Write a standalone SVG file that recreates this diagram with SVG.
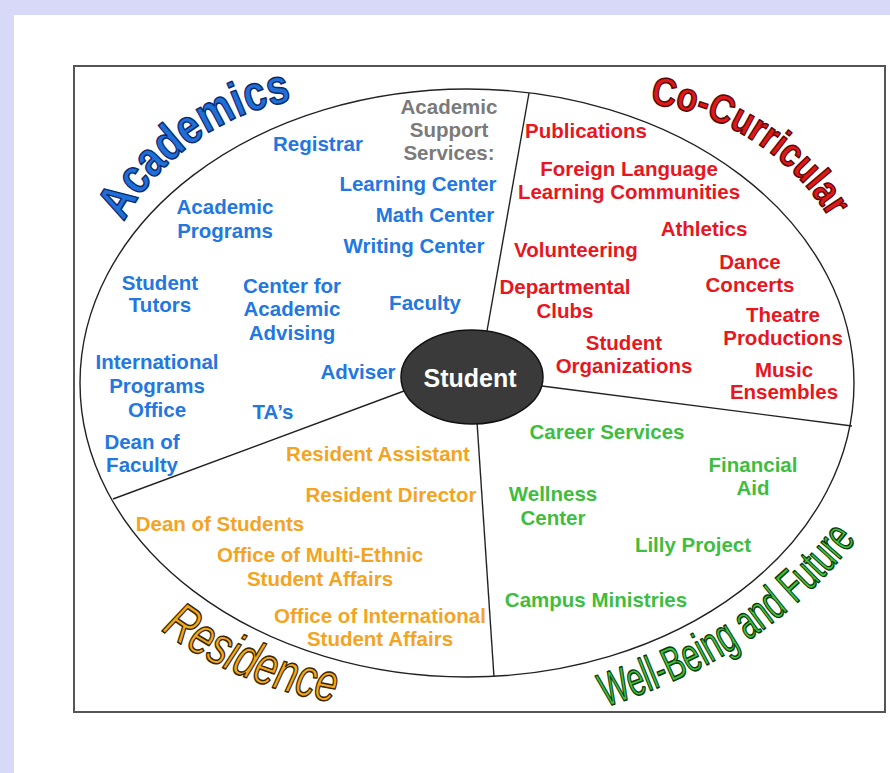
<svg xmlns="http://www.w3.org/2000/svg" width="890" height="773" viewBox="0 0 890 773">
<style>
.t{font-family:"Liberation Sans",Arial,sans-serif;font-weight:bold;font-size:20.5px;text-anchor:middle}
.b{fill:#2377e0}.g{fill:#7a7a7a}.r{fill:#e8161e}.gr{fill:#3fbd3f}.o{fill:#f3a424}
.div{stroke:#222;stroke-width:1.4;fill:none}
.title{font-family:"Liberation Sans",Arial,sans-serif;stroke-width:1.5;stroke-linejoin:round}
</style>
<defs>
<path id="pAcad" d="M124,222 C150,170 215,112 298,100"/>
<path id="pCo" d="M650,104 C720,112 792,152 834,226"/>
<path id="pRes" d="M161,630 C203,662 263,692 345,704"/>
<path id="pWell" d="M606,707 C682,681 782,641 866,527"/>
</defs>
<rect x="0" y="0" width="890" height="773" fill="#d8d8f8"/>
<rect x="14" y="15" width="876" height="758" fill="#ffffff"/>
<rect x="74" y="66" width="811" height="646" fill="#ffffff" stroke="#555" stroke-width="2"/>
<ellipse id="wheel" cx="467" cy="383" rx="387" ry="294" fill="none" stroke="#222" stroke-width="1.4"/>
<g id="connectors">
<line class="div" x1="529" y1="93" x2="487" y2="331"/>
<line class="div" x1="113" y1="499" x2="404" y2="391"/>
<line class="div" x1="477" y1="422" x2="494" y2="677"/>
<line class="div" x1="542" y1="386" x2="852" y2="426"/>
</g>
<g id="student">
<ellipse cx="472" cy="377" rx="71" ry="47" fill="#3a3a3a" stroke="#111" stroke-width="1.5"/>
<text x="470" y="387" class="t" style="font-size:25px;fill:#fff">Student</text>
</g>
<g id="title-academics"><text class="title" style="font-size:49px;font-weight:bold;fill:#1f6fd8;stroke:#0b2a6e"><textPath href="#pAcad" textLength="214" lengthAdjust="spacingAndGlyphs">Academics</textPath></text></g>
<g id="title-cocurricular"><text class="title" style="font-size:40px;font-weight:bold;fill:#e01818;stroke:#5a0808"><textPath href="#pCo" textLength="220" lengthAdjust="spacingAndGlyphs">Co-Curricular</textPath></text></g>
<g id="title-residence"><text class="title" style="font-size:54px;font-style:italic;fill:#f3a820;stroke:#3a2600"><textPath href="#pRes" textLength="190" lengthAdjust="spacingAndGlyphs">Residence</textPath></text></g>
<g id="title-wellbeing"><text class="title" style="font-size:48px;fill:#3cc43c;stroke:#0b3a0b"><textPath href="#pWell" textLength="306" lengthAdjust="spacingAndGlyphs">Well-Being and Future</textPath></text></g>
<g id="registrar"><text class="t b" x="318" y="151">Registrar</text></g>
<g id="academic-programs"><text class="t b" x="225"><tspan x="225" y="214">Academic</tspan><tspan x="225" y="238">Programs</tspan></text></g>
<g id="academic-support"><text class="t g"><tspan x="449" y="114">Academic</tspan><tspan x="449" y="137">Support</tspan><tspan x="449" y="160">Services:</tspan></text></g>
<g id="learning-center"><text class="t b" x="418" y="191">Learning Center</text></g>
<g id="math-center"><text class="t b" x="435" y="222">Math Center</text></g>
<g id="writing-center"><text class="t b" x="414" y="253">Writing Center</text></g>
<g id="student-tutors"><text class="t b"><tspan x="160" y="290">Student</tspan><tspan x="160" y="312">Tutors</tspan></text></g>
<g id="advising"><text class="t b"><tspan x="292" y="293">Center for</tspan><tspan x="292" y="316">Academic</tspan><tspan x="292" y="340">Advising</tspan></text></g>
<g id="faculty"><text class="t b" x="425" y="310">Faculty</text></g>
<g id="intl-programs"><text class="t b"><tspan x="157" y="369">International</tspan><tspan x="157" y="393">Programs</tspan><tspan x="157" y="417">Office</tspan></text></g>
<g id="adviser"><text class="t b" x="358" y="379">Adviser</text></g>
<g id="tas"><text class="t b" x="273" y="419">TA’s</text></g>
<g id="dean-faculty"><text class="t b"><tspan x="142" y="449">Dean of</tspan><tspan x="142" y="472">Faculty</tspan></text></g>
<g id="publications"><text class="t r" x="586" y="138">Publications</text></g>
<g id="flc"><text class="t r"><tspan x="629" y="176">Foreign Language</tspan><tspan x="629" y="199">Learning Communities</tspan></text></g>
<g id="athletics"><text class="t r" x="704" y="236">Athletics</text></g>
<g id="volunteering"><text class="t r" x="576" y="257">Volunteering</text></g>
<g id="dance"><text class="t r"><tspan x="750" y="269">Dance</tspan><tspan x="750" y="292">Concerts</tspan></text></g>
<g id="dept-clubs"><text class="t r"><tspan x="565" y="294">Departmental</tspan><tspan x="565" y="318">Clubs</tspan></text></g>
<g id="theatre"><text class="t r"><tspan x="783" y="322">Theatre</tspan><tspan x="783" y="345">Productions</tspan></text></g>
<g id="student-orgs"><text class="t r"><tspan x="624" y="350">Student</tspan><tspan x="624" y="373">Organizations</tspan></text></g>
<g id="music"><text class="t r"><tspan x="784" y="377">Music</tspan><tspan x="784" y="399">Ensembles</tspan></text></g>
<g id="career"><text class="t gr" x="607" y="439">Career Services</text></g>
<g id="financial-aid"><text class="t gr"><tspan x="753" y="472">Financial</tspan><tspan x="753" y="495">Aid</tspan></text></g>
<g id="wellness"><text class="t gr"><tspan x="553" y="501">Wellness</tspan><tspan x="553" y="525">Center</tspan></text></g>
<g id="lilly"><text class="t gr" x="693" y="552">Lilly Project</text></g>
<g id="campus-ministries"><text class="t gr" x="596" y="607">Campus Ministries</text></g>
<g id="res-assistant"><text class="t o" x="378" y="461">Resident Assistant</text></g>
<g id="res-director"><text class="t o" x="391" y="502">Resident Director</text></g>
<g id="dean-students"><text class="t o" x="220" y="531">Dean of Students</text></g>
<g id="multi-ethnic"><text class="t o"><tspan x="320" y="562">Office of Multi-Ethnic</tspan><tspan x="320" y="586">Student Affairs</tspan></text></g>
<g id="intl-affairs"><text class="t o"><tspan x="380" y="623">Office of International</tspan><tspan x="380" y="646">Student Affairs</tspan></text></g>
</svg>
